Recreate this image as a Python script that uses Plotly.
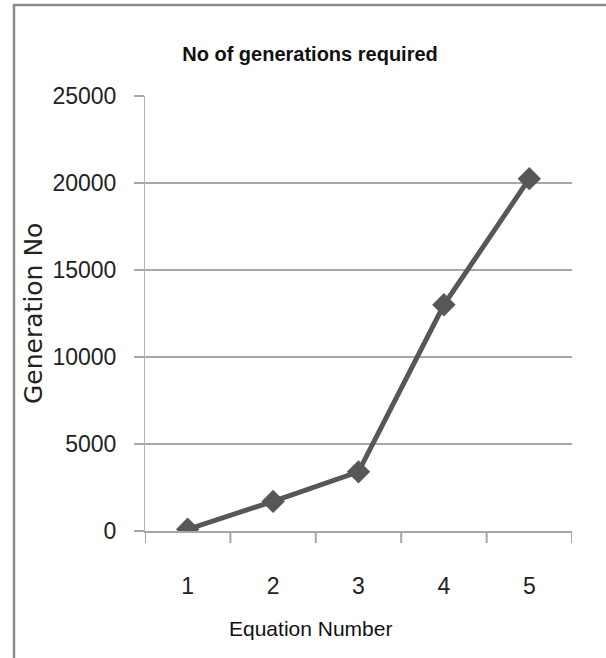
import plotly.graph_objects as go

categories = ["1", "2", "3", "4", "5"]
generations = [100, 1700, 3400, 13000, 20250]
y_ticks = [0, 5000, 10000, 15000, 20000, 25000]
y_tick_labels = ["0", "5000", "10000", "15000", "20000", "25000"]

W, H = 606, 658
L, R, T, B = 145, 34, 96, 127
PW, PH = W - L - R, H - T - B


def px_x(x):
    return (x - L) / PW


def px_y(y):
    return (H - B - y) / PH


fig = go.Figure()
fig.add_trace(go.Scatter(
    x=categories, y=generations, mode="lines+markers",
    line=dict(color="#575757", width=5),
    marker=dict(symbol="diamond", size=18, color="#575757"),
    showlegend=False,
))

font_main = "Liberation Sans, Arial, sans-serif"

fig.update_layout(
    width=W, height=H,
    margin=dict(l=L, r=R, t=T, b=B),
    paper_bgcolor="white", plot_bgcolor="white",
    title=dict(text="<b>No of generations required</b>", x=310 / W, xanchor="center",
               y=1 - 54 / H, yanchor="middle",
               font=dict(family=font_main, size=20, color="#111111")),
    xaxis=dict(
        type="category", range=[-0.5, 4.5],
        showline=True, linecolor="#a6a6a6", linewidth=2,
        showgrid=False, ticks="",
        tickfont=dict(family=font_main, size=23, color="#222222"),
        ticklabelstandoff=33,
    ),
    yaxis=dict(
        range=[0, 25000], tickvals=y_ticks, ticktext=y_tick_labels,
        showline=True, linecolor="#b4b4b4", linewidth=1,
        showgrid=True, gridcolor="#a8a8a8", gridwidth=2,
        ticks="outside", ticklen=10, tickcolor="#a8a8a8", tickwidth=2,
        ticklabelstandoff=13,
        tickfont=dict(family=font_main, size=23, color="#222222"),
        zeroline=False,
    ),
    annotations=[
        dict(text="Equation Number", xref="paper", yref="paper",
             x=px_x(310), y=px_y(628), xanchor="center", yanchor="middle",
             showarrow=False,
             font=dict(family=font_main, size=21, color="#111111")),
        dict(text="Generation No", xref="paper", yref="paper",
             x=px_x(33), y=px_y(314), xanchor="center", yanchor="middle",
             textangle=-90, showarrow=False,
             font=dict(family="DejaVu Sans", size=25, color="#222222")),
    ],
)

# category boundary tick marks under the x axis (Excel style)
for i in range(len(categories) + 1):
    fig.add_shape(type="line", xref="x", yref="paper",
                  x0=i - 0.5, x1=i - 0.5, y0=0, y1=-12 / PH,
                  line=dict(color="#a6a6a6", width=2))

# chart frame (only left and top edges are inside the picture)
fig.add_shape(type="rect", xref="paper", yref="paper",
              x0=px_x(14), x1=px_x(W + 20),
              y0=px_y(H + 20), y1=px_y(5),
              line=dict(color="#8c8c8c", width=2.5), layer="below")

fig.write_html("out.html", config={"displayModeBar": False},
               post_script="document.body.style.margin='0';")
